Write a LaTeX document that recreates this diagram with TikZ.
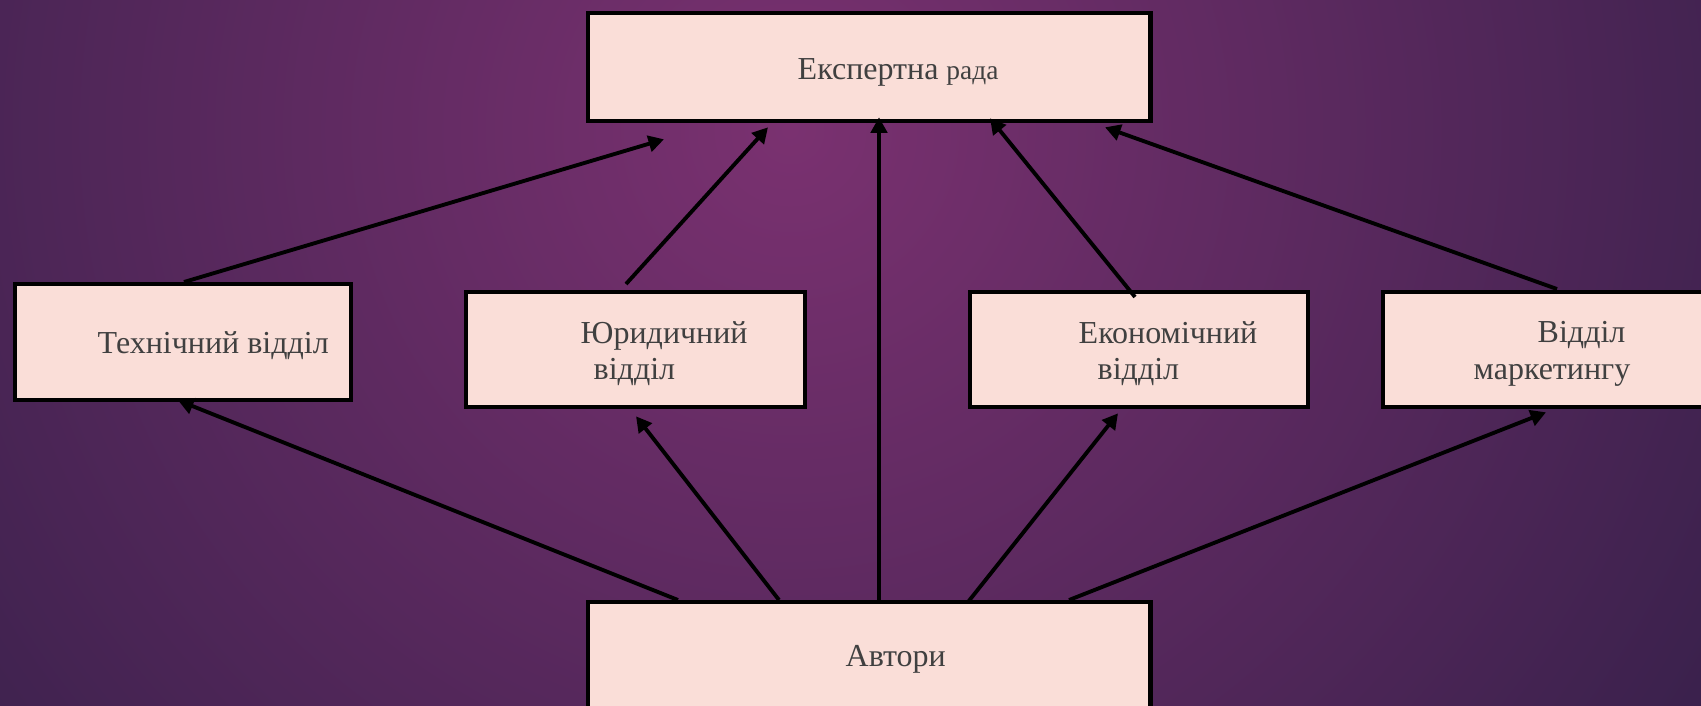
\documentclass[tikz,border=0pt]{standalone}
\usepackage{fontspec}
\setmainfont{Liberation Serif}
\usepackage{tikz}
\usetikzlibrary{arrows.meta,calc}

\definecolor{boxfill}{HTML}{FADED8}
\definecolor{bginner}{HTML}{7A3170}
\definecolor{bgouter}{HTML}{36204A}
\definecolor{txtgray}{HTML}{404040}

\tikzset{
	unit/.style={draw=black, line width=1.2pt, fill=boxfill, inner sep=0pt, anchor=north west},
	lbl/.style={anchor=base west, text=txtgray, inner sep=0pt, font=\fontsize{9.1}{11}\selectfont},
	link/.style={line width=1.1pt, -{Triangle[length=4.4pt,width=4.6pt]}},
}

\begin{document}
\begin{tikzpicture}[x=0.01cm, y=-0.01cm]
		\useasboundingbox (0, 0) rectangle (1701, 705);
		\clip (0, 0) rectangle (1701, 705);
		\shade[inner color=bginner, outer color=bgouter] (790, 130) circle (1150);

		% boxes
		\node[unit, minimum width=5.62cm, minimum height=1.08cm] (rada) at (586, 11) {};
		\node[unit, minimum width=3.36cm, minimum height=1.16cm] (tech) at (13, 282) {};
		\node[unit, minimum width=3.39cm, minimum height=1.15cm] (jur) at (464, 290) {};
		\node[unit, minimum width=3.38cm, minimum height=1.15cm] (econ) at (968, 290) {};
		\node[unit, minimum width=3.40cm, minimum height=1.15cm] (mark) at (1381, 290) {};
		\node[unit, minimum width=5.62cm, minimum height=1.30cm] (avt) at (586, 600) {};

		% texts
		\node[lbl] (radatext) at (797, 79) {Експертна {\fontsize{7.8}{10}\selectfont рада}};
		\node[lbl] (techtext) at (97, 353) {Технічний відділ};
		\node[lbl] (jurtext1) at (580, 343) {Юридичний};
		\node[lbl] (jurtext2) at (593, 379) {відділ};
		\node[lbl] (econtext1) at (1078, 343) {Економічний};
		\node[lbl] (econtext2) at (1097, 379) {відділ};
		\node[lbl] (marktext1) at (1537, 342) {Відділ};
		\node[lbl] (marktext2) at (1473, 379) {маркетингу};
		\node[lbl] (avttext) at (845, 666) {Автори};

		% to the council
		\draw[link] ($(tech.north west)+(171, 0)$) -- ($(rada.south west)+(78, 16)$);
		\draw[link] ($(jur.north west)+(162, -6)$) -- ($(rada.south west)+(182, 4)$);
		\draw[link] ($(avt.north west)+(293, 0)$) -- ($(rada.south west)+(293, -6)$);
		\draw[link] ($(econ.north west)+(167, 7)$) -- ($(rada.south west)+(404, -5)$);
		\draw[link] ($(mark.north west)+(176, -1)$) -- ($(rada.south west)+(519, 4)$);

		% from the authors
		\foreach \dx/\dy/\to/\ex/\ey in {92/0/tech/165/-2, 193/0/jur/172/7, 382/2/econ/150/4, 483/0/mark/165/3} {
			\draw[link] ($(avt.north west)+(\dx, \dy)$) -- ($(\to.south west)+(\ex, \ey)$);
		}
	\end{tikzpicture}
\end{document}
